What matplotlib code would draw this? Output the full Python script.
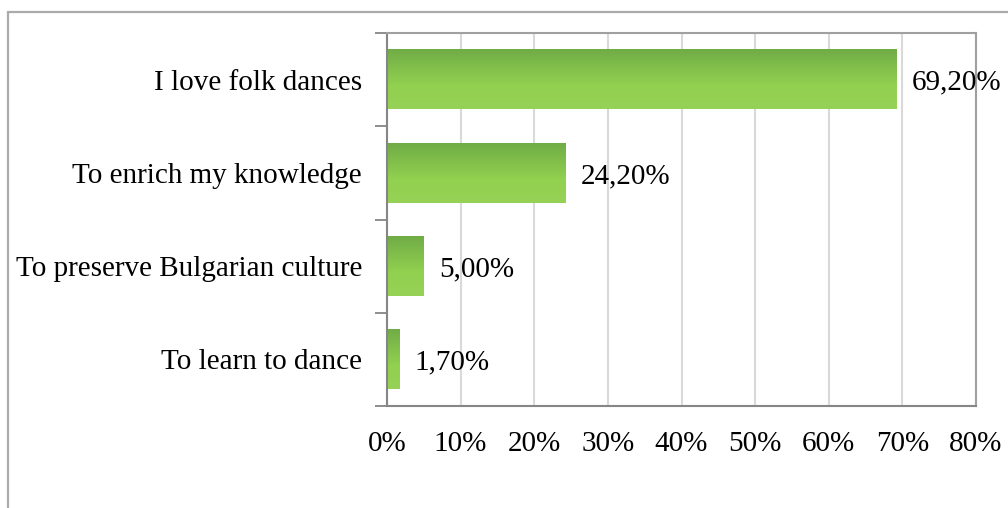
import matplotlib
matplotlib.use("Agg")
import matplotlib.pyplot as plt
import numpy as np
from matplotlib.patches import Rectangle
from matplotlib.colors import LinearSegmentedColormap

categories = ["I love folk dances", "To enrich my knowledge",
              "To preserve Bulgarian culture", "To learn to dance"]
values = [69.2, 24.2, 5.0, 1.7]
value_labels = ["69,20%", "24,20%", "5,00%", "1,70%"]
xticks = [0, 10, 20, 30, 40, 50, 60, 70, 80]
xtick_labels = ["0%", "10%", "20%", "30%", "40%", "50%", "60%", "70%", "80%"]

plt.rcParams['font.family'] = ['Liberation Serif', 'DejaVu Serif']
FS = 21

W, H = 1008, 508
fig = plt.figure(figsize=(W / 100, H / 100), dpi=100)
ax = fig.add_axes([387 / W, 1 - 406 / H, (976 - 387) / W, (406 - 33) / H])

# figure border
fig.patches.append(Rectangle((7.5 / W, -0.2), 1.5, 1 - 11.5 / H + 0.2,
                             transform=fig.transFigure, fill=False,
                             edgecolor='#ababab', linewidth=1.6, zorder=0))

n = len(categories)
ypos = np.arange(n)[::-1]  # first category on top
bh = 0.64
bars = ax.barh(ypos, values, height=bh, color='none', edgecolor='none', zorder=2)

cmap = LinearSegmentedColormap.from_list(
    'g', [(0.0, '#70ac46'), (0.6, '#92d050'), (1.0, '#96d256')])
grad = np.linspace(0, 1, 256).reshape(-1, 1)
for b in bars:
    x0, y0, w, h = b.get_x(), b.get_y(), b.get_width(), b.get_height()
    ax.imshow(grad, cmap=cmap, extent=[x0, x0 + w, y0, y0 + h],
              origin='upper', aspect='auto', zorder=2, interpolation='bilinear')

for b, lab in zip(bars, value_labels):
    ax.annotate(lab, (b.get_width(), b.get_y() + b.get_height() / 2),
                xytext=(11, 0), textcoords='offset points', va='center_baseline',
                ha='left', fontsize=FS, color='black', zorder=3,
                annotation_clip=False)

ax.set_xlim(0, 80)
ax.set_ylim(-0.5, n - 0.5)
ax.set_xticks(xticks)
ax.set_xticklabels(xtick_labels, fontsize=FS)
ax.tick_params(axis='x', length=0, pad=18)
ax.xaxis.grid(True, color='#d9d9d9', linewidth=1.5, zorder=0)
ax.set_axisbelow(True)

ax.set_yticks(np.arange(n + 1) - 0.5)
ax.set_yticklabels([])
ax.tick_params(axis='y', which='major', length=9, width=1.3, color='#868686', direction='out')
ax.set_yticks(ypos, minor=True)
ax.set_yticklabels(categories, minor=True, fontsize=FS)
ax.tick_params(axis='y', which='minor', length=0, pad=18)

for s in ['left', 'bottom']:
    ax.spines[s].set_color('#868686')
    ax.spines[s].set_linewidth(1.5)
for s in ['top', 'right']:
    ax.spines[s].set_color('#a0a0a0')
    ax.spines[s].set_linewidth(1.5)

fig.savefig('out.png', dpi=100)
